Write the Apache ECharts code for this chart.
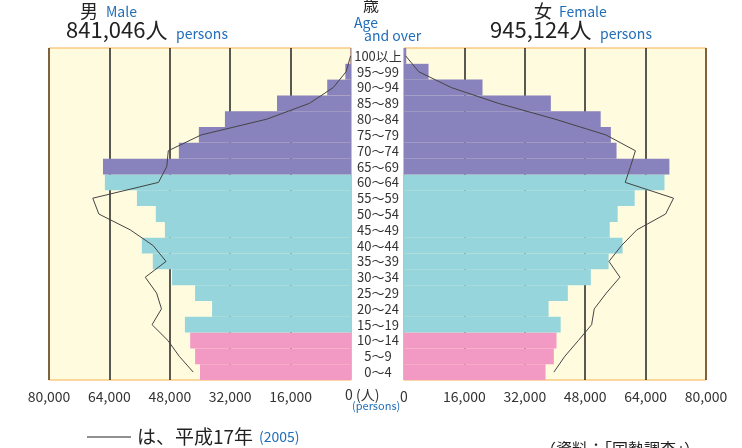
<!DOCTYPE html>
<html>
<head>
<meta charset="utf-8">
<script src="https://cdn.jsdelivr.net/npm/echarts@6/dist/echarts.min.js"></script>
<style>
  html, body { margin: 0; padding: 0; background: #fff; }
  #chart { width: 742px; height: 448px; }
</style>
</head>
<body>
<div id="chart"></div>
<script>
// age groups, bottom to top
const ageGroups = ['0〜4', '5〜9', '10〜14', '15〜19', '20〜24', '25〜29', '30〜34', '35〜39',
  '40〜44', '45〜49', '50〜54', '55〜59', '60〜64', '65〜69', '70〜74', '75〜79',
  '80〜84', '85〜89', '90〜94', '95〜99', '100以上']

const maleBars = [40000, 41300, 42600, 44000, 36800, 41300, 47400, 52500, 55400, 49300,
  51700, 56700, 65200, 65700, 45600, 40300, 33400, 19600, 6300, 1500, 150]
const femaleBars = [37500, 39700, 40400, 41500, 38300, 43400, 49500, 54200, 57900, 54500,
  56600, 61100, 69000, 70300, 56300, 54800, 52100, 38900, 20800, 6500, 600]

// 平成17年 (2005)
const male2005 = [41800, 45500, 48500, 52700, 50200, 51500, 54500, 49000, 52400, 58500,
  66800, 68400, 51000, 48800, 48400, 39700, 22300, 11000, 4700, 1300, 100]
const female2005 = [39700, 42600, 46200, 49700, 50400, 53600, 57200, 54300, 57600, 61700,
  69300, 71400, 58600, 60000, 61300, 53500, 40000, 25000, 12500, 3900, 450]

const xTicks = [0, 16000, 32000, 48000, 64000, 80000]

const FONT = '"Noto Sans CJK JP", "Noto Sans", sans-serif'
const BLUE = '#1f6db8'

function barColor (i) {
  if (i >= 13) return '#8882bd'   // 65+
  if (i >= 3) return '#95d5db'    // 15-64
  return '#f39ac4'                // 0-14
}
function coloured (arr) {
  return arr.map((v, i) => ({ value: v, itemStyle: { color: barColor(i) } }))
}

const gridLineColors = ['#f5b04a', '#222', '#222', '#222', '#222', '#5a3a1a']

function valueAxis (gridIndex, inverse) {
  return {
    gridIndex: gridIndex,
    type: 'value',
    min: xTicks[0],
    max: xTicks[xTicks.length - 1],
    interval: xTicks[1] - xTicks[0],
    inverse: inverse,
    axisLine: { show: false },
    axisTick: { show: false },
    splitLine: { show: true, lineStyle: { color: gridLineColors, width: 1.5 } },
    axisLabel: {
      fontFamily: FONT, fontSize: 14, color: '#333', margin: 10,
      formatter: v => (v === 0 && inverse) ? '' : v.toLocaleString('en-US')
    }
  }
}

const myChart = echarts.init(document.getElementById('chart'))
myChart.setOption({
  animation: false,
  textStyle: { fontFamily: FONT },
  grid: [
    { left: 49, right: 391, top: 48, bottom: 68, show: true, backgroundColor: '#fffbdf', borderColor: '#f5b04a', borderWidth: 1 },
    { left: 404, right: 36, top: 48, bottom: 68, show: true, backgroundColor: '#fffbdf', borderColor: '#f5b04a', borderWidth: 1 }
  ],
  xAxis: [valueAxis(0, true), valueAxis(1, false)],
  yAxis: [
    {
      gridIndex: 0, type: 'category', data: ageGroups, position: 'right',
      axisLine: { show: false }, axisTick: { show: false },
      axisLabel: { interval: 0, fontFamily: FONT, fontSize: 13, color: '#333', align: 'center', margin: 27 }
    },
    {
      gridIndex: 1, type: 'category', data: ageGroups,
      axisLine: { show: false }, axisTick: { show: false }, axisLabel: { show: false }
    }
  ],
  series: [
    { type: 'bar', xAxisIndex: 0, yAxisIndex: 0, barWidth: '100%', data: coloured(maleBars) },
    { type: 'bar', xAxisIndex: 1, yAxisIndex: 1, barWidth: '100%', data: coloured(femaleBars) },
    { type: 'line', xAxisIndex: 0, yAxisIndex: 0, data: male2005, symbol: 'none', z: 5,
      lineStyle: { color: '#444', width: 1 } },
    { type: 'line', xAxisIndex: 1, yAxisIndex: 1, data: female2005, symbol: 'none', z: 5,
      lineStyle: { color: '#444', width: 1 } }
  ],
  graphic: [
    // header left
    { type: 'text', left: 80, top: 2, style: { text: '男', font: '18px ' + FONT, fill: '#222' } },
    { type: 'text', left: 106, top: 5, style: { text: 'Male', font: '14px ' + FONT, fill: BLUE } },
    { type: 'text', left: 66, top: 19, style: { text: '841,046人', font: '22px ' + FONT, fill: '#222' } },
    { type: 'text', left: 176, top: 27, style: { text: 'persons', font: '14px ' + FONT, fill: BLUE } },
    // header centre
    { type: 'text', left: 363, top: -3, style: { text: '歳', font: '16px ' + FONT, fill: '#222' } },
    { type: 'text', left: 354, top: 16, style: { text: 'Age', font: '14px ' + FONT, fill: BLUE } },
    { type: 'text', left: 364, top: 29, style: { text: 'and over', font: '14px ' + FONT, fill: BLUE } },
    // header right
    { type: 'text', left: 534, top: 2, style: { text: '女', font: '18px ' + FONT, fill: '#222' } },
    { type: 'text', left: 559, top: 5, style: { text: 'Female', font: '14px ' + FONT, fill: BLUE } },
    { type: 'text', left: 490, top: 19, style: { text: '945,124人', font: '22px ' + FONT, fill: '#222' } },
    { type: 'text', left: 600, top: 27, style: { text: 'persons', font: '14px ' + FONT, fill: BLUE } },
    // zero label of the left axis
    { type: 'text', left: 345, top: 388, style: { text: '0 (人)', font: '14px ' + FONT, fill: '#333' } },
    { type: 'text', left: 352, top: 400, style: { text: '(persons)', font: '11px ' + FONT, fill: BLUE } },
    // footer
    { type: 'line', shape: { x1: 87, y1: 437, x2: 131, y2: 437 }, style: { stroke: '#222', lineWidth: 1 } },
    { type: 'text', left: 137, top: 427, style: { text: 'は、平成17年', font: '19px ' + FONT, fill: '#222' } },
    { type: 'text', left: 259, top: 430, style: { text: '(2005)', font: '14px ' + FONT, fill: BLUE } },
    { type: 'text', left: 540, top: 441, style: { text: '（資料：「国勢調査」）', font: '16px ' + FONT, fill: '#222' } }
  ]
})
</script>
</body>
</html>
